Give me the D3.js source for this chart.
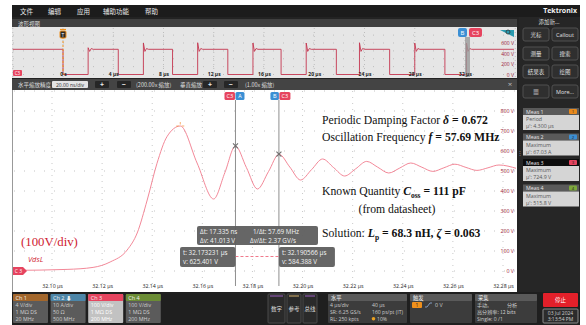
<!DOCTYPE html>
<html lang="zh-CN">
<head>
<meta charset="UTF-8">
<title>VdsL 振荡波形</title>
<style>
    body { margin: 0; background: #fff; }
    svg { display: block; }
    .ui { font-family: "Open Sans", "Noto Sans CJK SC", sans-serif; }
    .cjk { font-family: "Noto Sans CJK SC", sans-serif; }
    .serif { font-family: "Liberation Serif", "Times New Roman", serif; }
</style>
</head>
<body>
<svg id="chart" width="586" height="325"></svg>
<script src="https://d3js.org/d3.v7.min.js"></script>
<script>
// 主波形 (缩放视图) 读数：时间 µs, 电压 V
const mainT = [32.0844, 32.106, 32.1164, 32.1232, 32.130, 32.134, 32.138, 32.1419, 32.1459, 32.1512,
               32.1579, 32.1645, 32.1690, 32.1732, 32.1776, 32.1820, 32.1864, 32.1906, 32.1949, 32.1992,
               32.2036, 32.2080, 32.2124, 32.2168, 32.2212, 32.2256, 32.2300, 32.2344, 32.2388, 32.2432,
               32.2476, 32.2520, 32.2564, 32.2608, 32.2652, 32.2696, 32.2740, 32.2784, 32.2856];
const mainV = [3, 8, 18, 45, 105, 190, 355, 538, 672, 725,
               540, 360, 492, 625, 517, 410, 497, 584, 520, 455,
               507, 560, 517, 475, 511, 548, 519, 490, 515, 540,
               519, 498, 516, 534, 518, 503, 516, 530, 512];
const timeTicks = [32.10, 32.12, 32.14, 32.16, 32.18, 32.20, 32.22, 32.24, 32.26, 32.28];
const voltTicks = [0, 100, 200, 300, 400, 500, 600, 700, 800];

// 光标
const cursorT = [32.173231, 32.190566];
const cursorV = [625.401, 584.388];
const peakT = 32.1512, peakV = 725;

// 概览波形：下降沿/上升沿 (µs)
const ovFalls = [0, 4.4, 8.72, 13.12, 17.36, 21.76, 26.0, 30.4];
const ovRises = [2.0, 6.4, 10.72, 15.12, 19.36, 23.6, 28.0, 32.12];
const ovSpike = [510, 600, 605, 600, 600, 605, 600, 600];
const ovHigh = 480;
const ovTicks = [0, 4, 8, 12, 16, 20, 24, 28, 32];
const ovVoltTicks = [0, 200, 400, 600];

// 测量
const measNames = ["Meas 1", "Meas 2", "Meas 3", "Meas 4"];
const measTypes = ["Period", "Maximum", "Maximum", "Maximum"];
const measValues = ["µ': 4.300 µs", "µ': 67.03 A", "µ': 724.9 V", "µ': 515.8 V"];
const measColors = ["#e8891c", "#3b8fd4", "#e6445f", "#7da83b"];

// 通道
const chNames = ["Ch 1", "Ch 2", "Ch 3", "Ch 4"];
const chScale = ["4 V/div", "10 A/div", "100 V/div", "100 V/div"];
const chImp = ["1 MΩ  DS", "50 Ω", "1 MΩ  DS", "1 MΩ  DS"];
const chBw = ["20 MHz", "500 MHz", "200 MHz", "200 MHz"];
const chColors = ["#a3672c", "#4d86a8", "#e6445f", "#6b8c35"];

const svg = d3.select("#chart");

function txt(x, y, s, size, fill, cls, anchor) {
    return svg.append("text")
        .attr("class", cls || "ui")
        .attr("x", x).attr("y", y)
        .attr("font-size", size)
        .attr("fill", fill)
        .attr("text-anchor", anchor || "start")
        .text(s);
}
function box(x, y, w, h, fill, stroke, rx) {
    return svg.append("rect")
        .attr("x", x).attr("y", y).attr("width", w).attr("height", h)
        .attr("rx", rx || 0)
        .attr("fill", fill)
        .attr("stroke", stroke || "none");
}

// ---- 外框 ----
box(12, 5, 568, 320, "#232323");
box(12, 5, 568, 12, "#1c1c1c");
const menus = [["文件", 20], ["编辑", 48], ["应用", 77], ["辅助功能", 103], ["帮助", 145]];
menus.forEach(m => txt(m[1], 13.5, m[0], 6.5, "#e8e8e8", "cjk"));
txt(577, 13, "Tektronix", 7, "#f2f2f2", "ui", "end").attr("font-weight", "bold");

// ---- 概览 ----
box(12, 19, 505, 8, "#3f3f3f");
txt(18, 25.5, "波形视图", 5.5, "#ddd", "cjk");
box(12, 27, 505, 51, "#e6e6e6");

const ox = d3.scaleLinear().domain([0, 32]).range([63, 465]);
const oy = d3.scaleLinear().domain([0, 600]).range([74.5, 43]);

const ovGrid = svg.append("g");
d3.range(-4, 37, 4).forEach(t => {
    ovGrid.append("line").attr("x1", ox(t)).attr("x2", ox(t)).attr("y1", 28).attr("y2", 77)
        .attr("stroke", "#bdbdbd").attr("stroke-dasharray", "1,3");
});
[0, 150, 300, 450, 600, 750].forEach(v => {
    ovGrid.append("line").attr("x1", 13).attr("x2", 516).attr("y1", oy(v)).attr("y2", oy(v))
        .attr("stroke", "#bdbdbd").attr("stroke-dasharray", "1,9");
});

const ovPts = [[-4, ovHigh]];
ovFalls.forEach((f, i) => {
    const r = ovRises[i];
    ovPts.push([f, ovHigh], [f, 0], [r, 0], [r, ovSpike[i]],
        [r + 0.12, ovHigh - 40], [r + 0.25, ovHigh + 15], [r + 0.4, ovHigh]);
});
ovPts.push([35.9, ovHigh]);
svg.append("path")
    .datum(ovPts)
    .attr("fill", "none")
    .attr("stroke", "#c4354f")
    .attr("stroke-width", 0.9)
    .attr("d", d3.line().x(d => ox(d[0])).y(d => oy(d[1])));

// 触发标记
svg.append("line").attr("x1", ox(0)).attr("x2", ox(0)).attr("y1", 37).attr("y2", 77)
    .attr("stroke", "#f0901c").attr("stroke-dasharray", "2,2");
svg.append("line").attr("x1", ox(0) - 3).attr("x2", ox(0) + 3).attr("y1", 29.5).attr("y2", 29.5)
    .attr("stroke", "#f0901c").attr("stroke-width", 1.2);
box(ox(0) - 3, 31, 6, 7, "#2a2a2a", "#f0901c", 1);
txt(ox(0), 36.5, "T", 5, "#fff", "ui", "middle");

// 缩放窗口
box(465, 37, 5, 40, "#9a9a9a").attr("opacity", 0.8);
box(458, 28, 9, 9, "#3b8fd4", null, 2);
txt(462.5, 35, "B", 6, "#fff", "ui", "middle");
box(469, 28, 13, 9, "#e6445f", null, 2);
txt(475.5, 35, "C3", 6, "#fff", "ui", "middle");
svg.append("path").attr("d", "M500,30 L514,30 L514,37 Z").attr("fill", "#2a9bb0");
svg.append("circle").attr("cx", 508).attr("cy", 32).attr("r", 2).attr("fill", "none").attr("stroke", "#333").attr("stroke-width", 0.8);

// 概览轴
const ovAxis = svg.append("g").attr("class", "ui").attr("transform", "translate(0,72)")
    .call(d3.axisBottom(ox).tickValues(ovTicks).tickSize(0).tickPadding(0)
        .tickFormat(d => d === 0 ? "0 s" : d + " µs"));
ovAxis.select(".domain").remove();
ovAxis.selectAll("text").attr("font-size", 5).attr("fill", "#222").attr("font-weight", "bold");

const ovYAxis = svg.append("g").attr("class", "ui").attr("transform", "translate(515,0)")
    .call(d3.axisLeft(oy).tickValues(ovVoltTicks).tickSize(0).tickPadding(1)
        .tickFormat(d => d + " V"));
ovYAxis.select(".domain").remove();
ovYAxis.selectAll("text").attr("font-size", 5).attr("fill", "#9a2236");

box(13, 70, 9, 6, "#e6445f", null, 1);
txt(17.5, 75, "C3", 4.5, "#fff", "ui", "middle");

// ---- 缩放工具栏 ----
box(12, 79, 505, 11, "#444");
txt(18, 86.5, "水平缩放精度", 5.5, "#ddd", "cjk");
box(52, 81, 36, 7, "#e4e4e4", null, 1);
txt(70, 86.5, "20.00 ns/div", 5, "#333", "ui", "middle");
[[95, "+"], [117, "−"], [203, "+"], [224, "−"]].forEach(b => {
    box(b[0], 81, 14, 7, "#262626", null, 1);
    txt(b[0] + 7, 87, b[1], 7, "#eee", "ui", "middle").attr("font-weight", "bold");
});
txt(136, 86.5, "(200.00x 缩放)", 5.5, "#ddd", "cjk");
txt(180, 86.5, "垂直缩放", 5.5, "#ddd", "cjk");
txt(245, 86.5, "(1.00x 缩放)", 5.5, "#ddd", "cjk");
txt(510, 87, "×", 8, "#bbb", "ui", "middle");

// ---- 主波形区 ----
box(12, 90, 505, 202, "#fff");
svg.append("line").attr("x1", 12.5).attr("x2", 12.5).attr("y1", 90).attr("y2", 292).attr("stroke", "#999");

const x = d3.scaleLinear().domain([32.10, 32.28]).range([52, 503]);
const y = d3.scaleLinear().domain([0, 800]).range([271, 111]);

svg.append("clipPath").attr("id", "plotclip")
    .append("rect").attr("x", 13).attr("y", 90).attr("width", 503).attr("height", 196);

const grid = svg.append("g");
timeTicks.forEach(t => {
    grid.append("line").attr("x1", x(t)).attr("x2", x(t)).attr("y1", 91).attr("y2", 284)
        .attr("stroke", "#c9c9c9").attr("stroke-dasharray", "1,5");
});
voltTicks.concat([900]).forEach(v => {
    grid.append("line").attr("x1", 14).attr("x2", 516).attr("y1", y(v)).attr("y2", y(v))
        .attr("stroke", "#c4c4c4").attr("stroke-dasharray", "1,9");
});

const plot = svg.append("g").attr("clip-path", "url(#plotclip)");

// 光标线
cursorT.forEach(t => {
    plot.append("line").attr("x1", x(t)).attr("x2", x(t)).attr("y1", 100).attr("y2", 292)
        .attr("stroke", "#8f8f8f").attr("stroke-width", 1);
});

const pts = mainT.map((t, i) => [t, mainV[i]]);
plot.append("path")
    .datum(pts)
    .attr("fill", "none")
    .attr("stroke", "#f07a8c")
    .attr("stroke-width", 0.9)
    .attr("d", d3.line().x(d => x(d[0])).y(d => y(d[1])).curve(d3.curveMonotoneX));

// 峰值标记
const px = x(peakT), py = y(peakV);
plot.append("path").attr("d", `M${px - 4},${py} L${px - 1.5},${py} M${px + 1.5},${py} L${px + 4},${py} M${px},${py - 4} L${px},${py - 1.5}`)
    .attr("stroke", "#f5a04a").attr("stroke-width", 0.8);

// 光标交点
cursorT.forEach((t, i) => {
    const cx = x(t), cy = y(cursorV[i]);
    plot.append("path").attr("d", `M${cx - 2.5},${cy - 2.5} L${cx + 2.5},${cy + 2.5} M${cx - 2.5},${cy + 2.5} L${cx + 2.5},${cy - 2.5}`)
        .attr("stroke", "#6d6d6d").attr("stroke-width", 1.1);
});

// 光标标签
const xa = x(cursorT[0]), xb = x(cursorT[1]);
box(xa - 11, 92, 10.5, 8, "#e6445f", null, 1.5);
txt(xa - 5.7, 98.2, "C3", 5.5, "#fff", "ui", "middle");
box(xa, 92, 9, 8, "#3b8fd4", null, 1.5);
txt(xa + 4.5, 98.2, "A", 5.5, "#fff", "ui", "middle");
box(xb - 8.5, 92, 8.5, 8, "#3b8fd4", null, 1.5);
txt(xb - 4.2, 98.2, "B", 5.5, "#fff", "ui", "middle");
box(xb + 0.5, 92, 11, 8, "#e6445f", null, 1.5);
txt(xb + 6, 98.2, "C3", 5.5, "#fff", "ui", "middle");

// 读数框
svg.append("line").attr("x1", xa).attr("x2", xb).attr("y1", 256.5).attr("y2", 256.5)
    .attr("stroke", "#f07a8c").attr("stroke-dasharray", "3,2");
box(197, 226, 121, 19, "#5e5e5e", null, 2).attr("opacity", 0.95);
txt(200, 234, "Δt: 17.335 ns", 6.3, "#f4f4f4");
txt(253, 234, "1/Δt: 57.69 MHz", 6.3, "#f4f4f4");
txt(200, 242.5, "Δv: 41.013 V", 6.3, "#f4f4f4");
txt(250, 242.5, "Δv/Δt: 2.37 GV/s", 6.3, "#f4f4f4");
box(180, 247, xa - 180, 20, "#5e5e5e", null, 2).attr("opacity", 0.95);
txt(183, 255, "t: 32.173231 µs", 6.3, "#f4f4f4");
txt(183, 263.5, "v: 625.401 V", 6.3, "#f4f4f4");
box(xb, 247, 56, 20, "#5e5e5e", null, 2).attr("opacity", 0.95);
txt(xb + 3, 255, "t: 32.190566 µs", 6.3, "#f4f4f4");
txt(xb + 3, 263.5, "v: 584.388 V", 6.3, "#f4f4f4");

// 主轴
const xAxis = svg.append("g").attr("class", "ui").attr("transform", "translate(0,283)")
    .call(d3.axisBottom(x).tickValues(timeTicks).tickSize(0).tickPadding(1)
        .tickFormat(d => d.toFixed(2) + " µs"));
xAxis.select(".domain").remove();
xAxis.selectAll("text").attr("font-size", 5.3).attr("fill", "#222");

const yAxis = svg.append("g").attr("class", "ui").attr("transform", "translate(514,0)")
    .call(d3.axisLeft(y).tickValues(voltTicks).tickSize(0).tickPadding(0)
        .tickFormat(d => d + " V"));
yAxis.select(".domain").remove();
yAxis.selectAll("text").attr("font-size", 5.3).attr("fill", "#9a2236");

// C3 基准标记
svg.append("path").attr("d", "M13,267 L23,267 L27,271 L23,275 L13,275 Z").attr("fill", "#e6445f");
txt(18.5, 273.2, "C 3", 5, "#fff", "ui", "middle");

// 注释文字
txt(21, 246, "(100V/div)", 12.8, "#cf2231", "serif");
txt(28, 262, "VdsL", 7.5, "#cf2231", "ui").attr("font-style", "italic")
    .attr("font-family", "'Liberation Sans', Arial, sans-serif");

function rich(xp, yp, parts) {
    const t = svg.append("text").attr("class", "serif").attr("x", xp).attr("y", yp)
        .attr("font-size", 11.7).attr("fill", "#111");
    parts.forEach(p => {
        const s = t.append("tspan").text(p[0]);
        if (p[1].includes("b")) s.attr("font-weight", "bold");
        if (p[1].includes("i")) s.attr("font-style", "italic");
        if (p[1].includes("sub")) s.attr("font-size", 7.5).attr("dy", 2.5);
        if (p[1].includes("up")) s.attr("dy", -2.5);
    });
    return t;
}
rich(322, 124, [["Periodic Damping Factor ", ""], ["δ", "bi"], [" = 0.672", "b"]]);
rich(322, 141, [["Oscillation Frequency ", ""], ["f", "bi"], [" = 57.69 MHz", "b"]]);
rich(322, 195, [["Known Quantity ", ""], ["C", "bi"], ["oss", "b sub"], [" = 111 pF", "b up"]]);
rich(397, 213, [["(from datasheet)", ""]]).attr("text-anchor", "middle");
rich(322, 237, [["Solution: ", ""], ["L", "bi"], ["p", "b sub"], [" = 68.3 nH, ", "b up"], ["ζ", "bi"], [" = 0.063", "b"]]);

// ---- 右侧面板 ----
box(519, 17, 61, 275, "#262626");
txt(549, 24, "添加新...", 5.5, "#ddd", "cjk", "middle");
const btnRows = [["光标", "Callout"], ["测量", "搜索"], ["结果表", "绘图"], ["▦", "More..."]];
const btnY = [28, 47, 65, 85];
btnRows.forEach((row, r) => {
    row.forEach((label, c) => {
        const bx = 523 + c * 29;
        box(bx, btnY[r], 26, 13, "#2f2f2f", "#505050", 2);
        txt(bx + 13, btnY[r] + 8.6, label, 5.5, "#e0e0e0", "ui", "middle");
    });
});
txt(519.5, 155, "⋮", 6, "#888", "ui", "middle");

measNames.forEach((name, i) => {
    const my = 108 + i * 25.5;
    box(523, my, 56, 7, i === 2 ? "#0d0d0d" : "#5a5a5a");
    txt(526, my + 5.5, name, 5.3, "#e6e6e6");
    box(569, my + 1, 8, 5, measColors[i], null, 1);
    txt(573, my + 5.2, String(i + 1), 4.3, "#222", "ui", "middle");
    box(523, my + 7, 56, 15, "#d5d5d5");
    txt(526, my + 13, measTypes[i], 5.3, "#555");
    txt(526, my + 20, measValues[i], 5.3, "#555");
});

// ---- 底部面板 ----
box(12, 292, 568, 33, "#1f1f1f");
chNames.forEach((name, i) => {
    const cx = 13 + i * 37.6;
    box(cx, 294, 35, 29, i === 2 ? "#c2c2c2" : "#5b5b5b", null, 1);
    box(cx, 294, 35, 7, chColors[i], null, 1);
    txt(cx + 2.5, 299.6, name + (i === 1 ? " ⬇" : ""), 5.5, "#f2f2f2");
    const tc = i === 2 ? "#ffffff" : "#cfcfcf";
    txt(cx + 2.5, 306.8, chScale[i], 5.3, tc);
    txt(cx + 2.5, 313.8, chImp[i], 5.3, tc);
    txt(cx + 2.5, 320.8, chBw[i], 5.3, tc);
});
[["数字", 268, 17, "#9b5fc0"], ["参考", 287, 14, "#d6b26e"], ["总线", 303, 14, "#9b5fc0"]].forEach(b => {
    box(b[1], 294, b[2], 29, "#2a2a2a", "#4a4a4a", 1);
    svg.append("line").attr("x1", b[1] + 2).attr("x2", b[1] + b[2] - 2).attr("y1", 296).attr("y2", 296)
        .attr("stroke", b[3]).attr("stroke-width", 1);
    txt(b[1] + b[2] / 2, 311, b[0], 5.5, "#ddd", "cjk", "middle");
});

// 水平
box(328, 294, 79, 29, "#3c3c3c", null, 1);
box(328, 294, 79, 7, "#5a5a5a", null, 1);
txt(331, 299.5, "水平", 5.3, "#eee", "cjk");
txt(330, 306.5, "4 µs/div", 5.1, "#ccc"); txt(372, 306.5, "40 µs", 5.1, "#ccc");
txt(330, 313.5, "SR: 6.25 GS/s", 5.1, "#ccc"); txt(372, 313.5, "160 ps/pt (IT)", 5.1, "#ccc");
txt(330, 320.5, "RL: 250 kpts", 5.1, "#ccc");
svg.append("circle").attr("cx", 373.5).attr("cy", 318.8).attr("r", 1.8).attr("fill", "#e8a020");
txt(377, 320.5, "10%", 5.1, "#ccc");

// 触发
box(410, 294, 62, 29, "#3c3c3c", null, 1);
box(410, 294, 62, 7, "#5a5a5a", null, 1);
txt(413, 299.5, "触发", 5.3, "#eee", "cjk");
box(412, 302, 10, 6, "#f0901c", null, 1);
txt(417, 306.6, "1", 5, "#222", "ui", "middle");
svg.append("path").attr("d", "M425,307 L427,307 L430,303 L432,303").attr("fill", "none").attr("stroke", "#8fb0e0").attr("stroke-width", 0.8);
txt(435, 307, "0 V", 5.3, "#ccc");

// 采集
box(475, 294, 62, 29, "#3c3c3c", null, 1);
box(475, 294, 62, 7, "#5a5a5a", null, 1);
txt(478, 299.5, "采集", 5.3, "#eee", "cjk");
txt(477, 306.5, "手动,", 5.1, "#ccc", "cjk"); txt(507, 306.5, "分析", 5.1, "#ccc", "cjk");
txt(477, 313.5, "高分辨率: 12 bits", 5.1, "#ccc", "cjk");
txt(477, 320.5, "Single: 0 /1", 5.1, "#ccc");

box(543, 293, 35, 14, "#e3202a", null, 1);
txt(560.5, 302, "停止", 5.5, "#fff", "cjk", "middle");
box(543, 309, 35, 14, "#2c2c2c", "#8a8a8a", 1);
txt(560.5, 314.6, "03 Jul 2024", 5, "#ccc", "ui", "middle");
txt(560.5, 320.8, "3:13:54 PM", 5, "#ccc", "ui", "middle");
</script>
</body>
</html>
